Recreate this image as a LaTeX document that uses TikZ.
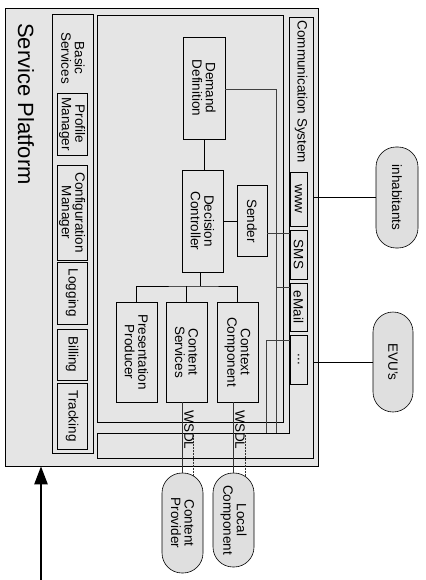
\documentclass[tikz,border=0pt]{standalone}
\usepackage{fontspec}
\setmainfont{Liberation Sans}
\usetikzlibrary{arrows.meta, calc}

\tikzset{
  box/.style={draw, fill=gray!20, line width=0.6pt, inner sep=0pt},
  rtxt/.style={rotate=-90, align=center, inner sep=0pt, font=\fontsize{13.5}{13.5}\selectfont},
  pill/.style={box, fill=gray!25, rounded corners=20pt},
  bus/.style={draw=black!75, line width=0.4pt},
  wsdl/.style={draw=black!80, line width=0.5pt},
  inarrow/.style={line width=2.4pt, -{Triangle[length=18pt,width=13pt]}},
}

\begin{document}
\begin{tikzpicture}[x=1pt, y=-1pt]
  \useasboundingbox (0,0) rectangle (425,580);

  % Plattform
  \node[box, minimum width=313, minimum height=458] (plat) at (161.5,237) {};
  \node[rotate=-90, inner sep=0pt, font=\fontsize{22}{24}\selectfont] (title) at (26,104) {Service Platform};

  % Basisdienste
  \node[box, minimum width=41, minimum height=439] (basic) at (72.5,233.5) {};
  \node[rtxt] (basiclbl) at (73,58) {Basic\\Services};
  \node[box, minimum width=30, minimum height=62, label={[rtxt]center:Profile\\Manager}] (profile) at (72,124) {};
  \node[box, minimum width=30, minimum height=95, label={[rtxt]center:Configuration\\Manager}] (config) at (72,212.5) {};
  \node[box, minimum width=30, minimum height=62, label={[rtxt]center:Logging}] (logging) at (72,293) {};
  \node[box, minimum width=30, minimum height=51, label={[rtxt]center:Billing}] (billing) at (72,354.5) {};
  \node[box, minimum width=30, minimum height=66, label={[rtxt]center:Tracking}] (tracking) at (72,416) {};

  % Anwendungsteil
  \node[box, minimum width=186, minimum height=407] (app) at (190,218.5) {};

  % Kommunikationssystem (L-Form)
  \draw[line width=0.6pt, fill=gray!20] (289,17) -- (313,17) -- (313,458) -- (97,458) -- (97,433) -- (289,433) -- cycle;
  \coordinate (commR) at (313,0);
  \node[rtxt] (commlbl) at (301,92) {Communication System};
  \node[box, minimum width=17, minimum height=54, label={[rtxt]center:www}] (www) at (298.5,199) {};
  \node[box, minimum width=17, minimum height=49, label={[rtxt]center:SMS}] (sms) at (298.5,254.5) {};
  \node[box, minimum width=17, minimum height=48, label={[rtxt]center:eMail}] (email) at (298.5,307) {};
  \node[box, minimum width=17, minimum height=49, label={[rtxt]center:...}] (dots) at (298.5,359.5) {};

  % Komponenten
  \node[box, minimum width=42, minimum height=102, label={[rtxt]center:Demand\\Definition}] (dd) at (204,88) {};
  \node[box, minimum width=41, minimum height=102, label={[rtxt]center:Decision\\Controller}] (dc) at (202.5,221) {};
  \node[box, minimum width=30, minimum height=71, label={[rtxt]center:Sender}] (sender) at (252,221) {};
  \node[box, minimum width=41, minimum height=100, label={[rtxt]center:Presentation\\Producer}] (pp) at (136.5,352) {};
  \node[box, minimum width=41, minimum height=100, label={[rtxt]center:Content\\Services}] (cs) at (186.5,352) {};
  \node[box, minimum width=41, minimum height=100, label={[rtxt]center:Context\\Component}] (cc) at (237.5,352) {};

  % externe Partner
  \node[pill, minimum width=42, minimum height=101, label={[rtxt]center:inhabitants}] (inh) at (397,197.5) {};
  \node[pill, minimum width=40, minimum height=100, label={[rtxt]center:EVU's}] (evu) at (393,362) {};
  \node[pill, minimum width=41, minimum height=100, label={[rtxt]center:Content\\Provider}] (cp) at (182.5,523) {};
  \node[pill, minimum width=41, minimum height=94, label={[rtxt]center:Local\\Component}] (lc) at (233.5,520) {};

  % Verbindungen
  \draw (dd) -- (dd |- dc.north);
  \draw (dc) -- (sender);
  \coordinate (split) at (200,286);
  \draw (dc.south -| split) -- (split);
  \draw (pp.north) |- (split) -| (cc.north);
  \draw (cs.north) -- (cs.north |- split);

  \coordinate (busTop) at (276,89);
  \coordinate (busE) at (276,287);
  \coordinate (dotsIn) at (266,340);
  \coordinate (sendOut) at (267,233);
  \draw[bus] (dd.east |- busTop) -- (busTop) -- (276,433);
  \draw[bus] (busE) -- (email.west |- busE);
  \draw[bus] (dotsIn -| dots.west) -- (dotsIn) -- (266,433);
  \draw[bus] (sender.east |- sendOut) -- (sendOut -| sms.west);

  \draw (inh.west) -- (inh.west -| commR);
  \draw (evu.west) -- (evu.west -| commR);

  % WSDL
  \coordinate (cpIn) at (193,433);
  \coordinate (lcIn) at (245,433);
  \draw[wsdl] (cs.south -| cp.north) -- (cp.north);
  \draw[wsdl, densely dotted] (cpIn) -- ($(cpIn |- cp.north)+(0,2.6)$);
  \draw[wsdl] (cc.south -| lc.north) -- (lc.north);
  \draw[wsdl, densely dotted] (lcIn) -- ($(lcIn |- lc.north)+(0,3.5)$);
  \node[rtxt] (wsdl1) at (189,430) {WSDL};
  \node[rtxt] (wsdl2) at (240,430) {WSDL};

  % Eingang
  \coordinate (src) at (41,580);
  \draw[inarrow] (src) -- (src |- plat.south);
\end{tikzpicture}
\end{document}
